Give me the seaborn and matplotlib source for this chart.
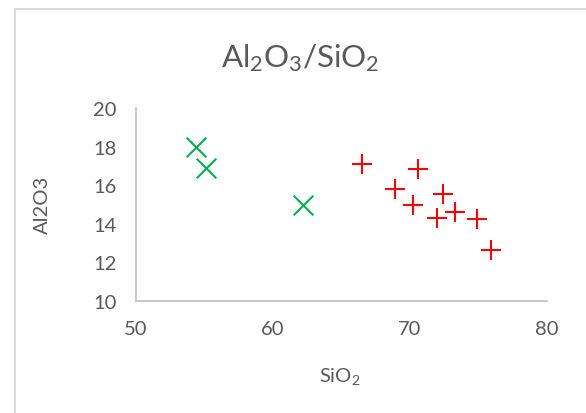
import matplotlib
matplotlib.use("Agg")
import matplotlib.pyplot as plt
import matplotlib.patches as mpatches
import seaborn as sns
import pandas as pd

# Sample compositions (wt%)
group_a_sio2 = [54.4, 55.1, 62.2]
group_a_al2o3 = [18.0, 16.9, 15.0]

group_b_sio2 = [66.5, 70.6, 68.9, 72.4, 70.2, 72.0, 73.3, 74.9, 75.9]
group_b_al2o3 = [17.1, 16.85, 15.8, 15.55, 14.95, 14.3, 14.6, 14.25, 12.65]

x_ticks = [50, 60, 70, 80]
y_ticks = [10, 12, 14, 16, 18, 20]

sns.set_theme(style="white")
plt.rcParams["font.family"] = ["Lato", "DejaVu Sans"]
plt.rcParams["mathtext.fontset"] = "custom"
plt.rcParams["mathtext.rm"] = "Lato"
plt.rcParams["mathtext.it"] = "Lato"

text_color = "#595959"
axis_color = "#BFBFBF"

df_a = pd.DataFrame({"SiO2": group_a_sio2, "Al2O3": group_a_al2o3})
df_b = pd.DataFrame({"SiO2": group_b_sio2, "Al2O3": group_b_al2o3})

fig = plt.figure(figsize=(5.86, 4.14), dpi=100)
ax = fig.add_axes([136 / 586, 1 - 302 / 414, (547 - 136) / 586, (302 - 109) / 414])

sns.scatterplot(data=df_a, x="SiO2", y="Al2O3", marker="x", s=200,
                color="#00B050", linewidth=1.5, ax=ax)
sns.scatterplot(data=df_b, x="SiO2", y="Al2O3", marker="+", s=190,
                color="#FF0000", linewidth=1.5, ax=ax)

ax.set_xlim(50, 80)
ax.set_ylim(10, 20)
ax.set_xticks(x_ticks)
ax.set_yticks(y_ticks)
ax.tick_params(axis="both", length=0, labelsize=14.5, labelcolor=text_color)
ax.tick_params(axis="x", pad=14)
ax.tick_params(axis="y", pad=14)

for side in ["top", "right"]:
    ax.spines[side].set_visible(False)
for side in ["left", "bottom"]:
    ax.spines[side].set_color(axis_color)
    ax.spines[side].set_linewidth(1.2)

ax.set_xlabel("")
ax.set_ylabel("")
fig.text(340 / 586, 1 - 377 / 414, r"$\mathregular{SiO_2}$", ha="center", va="center",
         fontsize=14.5, color=text_color)
fig.text(42 / 586, 1 - 205 / 414, "Al2O3", rotation=90, ha="center", va="center",
         fontsize=14.5, color=text_color)
fig.text(300 / 586, 1 - 58 / 414, r"$\mathregular{Al_2O_3/SiO_2}$", ha="center",
         va="center", fontsize=22.5, color=text_color)

# chart area frame
frame = mpatches.Rectangle((14.5 / 586, -0.1), 1.2, 1 - 9.5 / 414 + 0.1,
                           transform=fig.transFigure, fill=False,
                           edgecolor="#D9D9D9", linewidth=1.5)
fig.patches.append(frame)

fig.savefig("out.png", dpi=100)
